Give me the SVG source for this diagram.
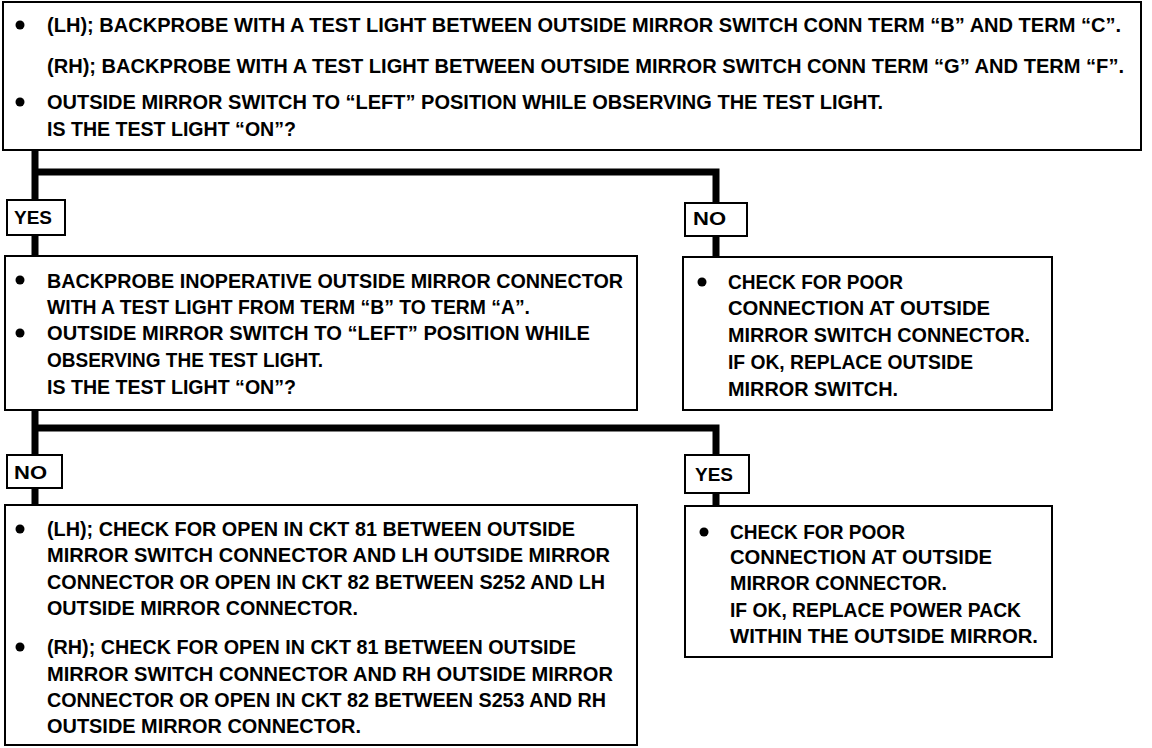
<svg xmlns="http://www.w3.org/2000/svg" width="1152" height="748" viewBox="0 0 1152 748">
<style>
.box{fill:#fff;stroke:#000;stroke-width:2}
.lbl{fill:#fff;stroke:#000;stroke-width:2}
text{font-family:"Liberation Sans",Arial,sans-serif;font-weight:bold;font-size:20px;fill:#000}
text.l{font-size:18px}
.conn{fill:none;stroke:#000;stroke-width:7;stroke-linejoin:miter}
.dot{fill:#000}
</style>
<rect width="1152" height="748" fill="#fff"/>
<g id="connectors">
<path class="conn" d="M35,150 V200 M35,172 H716 V203"/>
<path class="conn" d="M35,235 V256 M716,236 V257"/>
<path class="conn" d="M35,410 V455 M35,428 H716 V455"/>
<path class="conn" d="M35,488 V506 M716,493 V506"/>
</g>
<g id="start">
<rect class="box" x="3" y="2" width="1138" height="148"/>
<circle class="dot" cx="20" cy="25" r="4.5"/>
<text x="47" y="32" textLength="1074" lengthAdjust="spacingAndGlyphs">(LH); BACKPROBE WITH A TEST LIGHT BETWEEN OUTSIDE MIRROR SWITCH CONN TERM “B” AND TERM “C”.</text>
<text x="47" y="73" textLength="1077" lengthAdjust="spacingAndGlyphs">(RH); BACKPROBE WITH A TEST LIGHT BETWEEN OUTSIDE MIRROR SWITCH CONN TERM “G” AND TERM “F”.</text>
<circle class="dot" cx="20" cy="102" r="4.5"/>
<text x="47" y="109" textLength="836" lengthAdjust="spacingAndGlyphs">OUTSIDE MIRROR SWITCH TO “LEFT” POSITION WHILE OBSERVING THE TEST LIGHT.</text>
<text x="47" y="136" textLength="249" lengthAdjust="spacingAndGlyphs">IS THE TEST LIGHT “ON”?</text>
</g>
<g id="yes1">
<rect class="lbl" x="7" y="200" width="58" height="35"/>
<text class="l" x="14" y="223.5" textLength="38" lengthAdjust="spacingAndGlyphs">YES</text>
</g>
<g id="no1">
<rect class="lbl" x="685" y="203" width="62" height="33"/>
<text class="l" x="693" y="224.5" textLength="33" lengthAdjust="spacingAndGlyphs">NO</text>
</g>
<g id="step2">
<rect class="box" x="5" y="256" width="632" height="154"/>
<circle class="dot" cx="20" cy="280" r="4.5"/>
<text x="47" y="287.5" textLength="576" lengthAdjust="spacingAndGlyphs">BACKPROBE INOPERATIVE OUTSIDE MIRROR CONNECTOR</text>
<text x="47" y="314" textLength="483" lengthAdjust="spacingAndGlyphs">WITH A TEST LIGHT FROM TERM “B” TO TERM “A”.</text>
<circle class="dot" cx="20" cy="333" r="4.5"/>
<text x="47" y="340" textLength="543" lengthAdjust="spacingAndGlyphs">OUTSIDE MIRROR SWITCH TO “LEFT” POSITION WHILE</text>
<text x="47" y="367" textLength="276" lengthAdjust="spacingAndGlyphs">OBSERVING THE TEST LIGHT.</text>
<text x="47" y="394" textLength="249" lengthAdjust="spacingAndGlyphs">IS THE TEST LIGHT “ON”?</text>
</g>
<g id="switch-result">
<rect class="box" x="683" y="257" width="369" height="153"/>
<circle class="dot" cx="702" cy="282" r="4.5"/>
<text x="728" y="289" textLength="175" lengthAdjust="spacingAndGlyphs">CHECK FOR POOR</text>
<text x="728" y="315" textLength="262" lengthAdjust="spacingAndGlyphs">CONNECTION AT OUTSIDE</text>
<text x="728" y="342" textLength="302" lengthAdjust="spacingAndGlyphs">MIRROR SWITCH CONNECTOR.</text>
<text x="728" y="369" textLength="245" lengthAdjust="spacingAndGlyphs">IF OK, REPLACE OUTSIDE</text>
<text x="728" y="396" textLength="170" lengthAdjust="spacingAndGlyphs">MIRROR SWITCH.</text>
</g>
<g id="no2">
<rect class="lbl" x="7" y="455" width="55" height="33"/>
<text class="l" x="14" y="478.5" textLength="33" lengthAdjust="spacingAndGlyphs">NO</text>
</g>
<g id="yes2">
<rect class="lbl" x="685" y="455" width="64" height="38"/>
<text class="l" x="695" y="480.5" textLength="38" lengthAdjust="spacingAndGlyphs">YES</text>
</g>
<g id="circuit-result">
<rect class="box" x="5" y="505" width="632" height="240"/>
<circle class="dot" cx="20" cy="529" r="4.5"/>
<text x="47" y="536" textLength="528" lengthAdjust="spacingAndGlyphs">(LH); CHECK FOR OPEN IN CKT 81 BETWEEN OUTSIDE</text>
<text x="47" y="562" textLength="563" lengthAdjust="spacingAndGlyphs">MIRROR SWITCH CONNECTOR AND LH OUTSIDE MIRROR</text>
<text x="47" y="589" textLength="558" lengthAdjust="spacingAndGlyphs">CONNECTOR OR OPEN IN CKT 82 BETWEEN S252 AND LH</text>
<text x="47" y="615" textLength="311" lengthAdjust="spacingAndGlyphs">OUTSIDE MIRROR CONNECTOR.</text>
<circle class="dot" cx="20" cy="647" r="4.5"/>
<text x="47" y="654" textLength="529" lengthAdjust="spacingAndGlyphs">(RH); CHECK FOR OPEN IN CKT 81 BETWEEN OUTSIDE</text>
<text x="47" y="681" textLength="566" lengthAdjust="spacingAndGlyphs">MIRROR SWITCH CONNECTOR AND RH OUTSIDE MIRROR</text>
<text x="47" y="707" textLength="559" lengthAdjust="spacingAndGlyphs">CONNECTOR OR OPEN IN CKT 82 BETWEEN S253 AND RH</text>
<text x="47" y="733" textLength="314" lengthAdjust="spacingAndGlyphs">OUTSIDE MIRROR CONNECTOR.</text>
</g>
<g id="mirror-result">
<rect class="box" x="685" y="506" width="367" height="151"/>
<circle class="dot" cx="704" cy="532" r="4.5"/>
<text x="730" y="539" textLength="175" lengthAdjust="spacingAndGlyphs">CHECK FOR POOR</text>
<text x="730" y="564" textLength="262" lengthAdjust="spacingAndGlyphs">CONNECTION AT OUTSIDE</text>
<text x="730" y="590" textLength="217" lengthAdjust="spacingAndGlyphs">MIRROR CONNECTOR.</text>
<text x="730" y="617" textLength="291" lengthAdjust="spacingAndGlyphs">IF OK, REPLACE POWER PACK</text>
<text x="730" y="643" textLength="308" lengthAdjust="spacingAndGlyphs">WITHIN THE OUTSIDE MIRROR.</text>
</g>
</svg>
